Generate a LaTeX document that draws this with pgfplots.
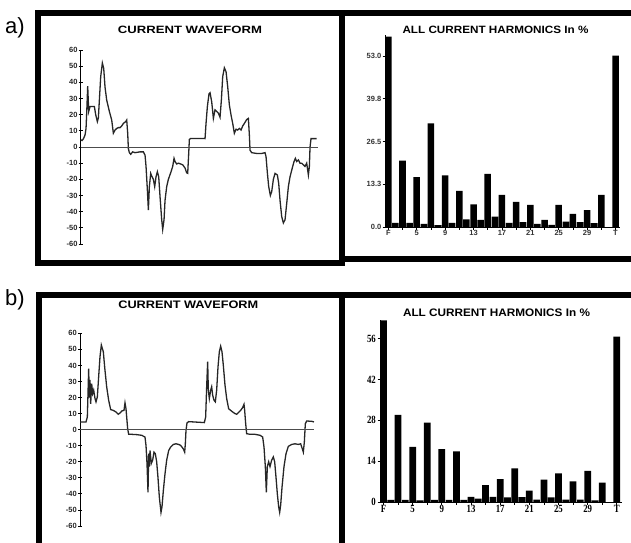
\documentclass[border=0pt]{standalone}
\usepackage{pgfplots}
\pgfplotsset{compat=1.18}
\usepackage{fontspec}
\setmainfont{Liberation Sans}
\newfontfamily\tms{Liberation Serif}
\newcommand{\bt}[1]{\scalebox{0.8}[1]{\tms\bfseries #1}}
\pgfplotsset{
  wave/.style={scale only axis, anchor=south west, clip=false,
    axis x line=none, axis y line=left, axis line style={-, line width=0.8pt},
    ytick={-60,-50,...,60},
    yticklabels={-60,-50,-40,-30,-20,-10,0,10,20,30,40,50,60},
    tick align=center, major tick length=4pt,
    tick style={line width=0.8pt, black},
    yticklabel style={font=\fontsize{7.5}{7.5}\selectfont\bfseries, inner sep=1pt, text=black!85}},
  harm/.style={scale only axis, anchor=south west, clip=false,
    axis x line=bottom, axis y line=left, axis line style={-, line width=0.9pt},
    ybar, bar width=0.92,
    xtick={1,3,...,33},
    tick align=outside, major tick length=2.5pt,
    tick style={line width=0.8pt, black}},
}
\begin{document}
\begin{tikzpicture}[x=1pt,y=1pt]
\useasboundingbox (0,0) rectangle (631,-542);
% frames
\draw[line width=6pt] (38.3,-13) rectangle (341.5,-262.5);
\draw[line width=6pt] (341.5,-12.5) rectangle (660,-259);
\draw[line width=6pt] (38.5,-294.5) rectangle (341.5,-570);
\draw[line width=6pt] (341.5,-294.5) rectangle (660,-570);
% panel labels
\node[font=\fontsize{22}{22}\selectfont] at (15,-27.5) {a)};
\node[font=\fontsize{22}{22}\selectfont] at (15,-300) {b)};
% titles
\node[anchor=base] at (190,-33.7) {\resizebox{144pt}{7.4pt}{\bfseries CURRENT WAVEFORM}};
\node[anchor=base] at (495.5,-33.7) {\resizebox{186pt}{7.4pt}{\bfseries ALL CURRENT HARMONICS In \%}};
\node[anchor=base] at (188.3,-308.7) {\resizebox{140pt}{7.6pt}{\bfseries CURRENT WAVEFORM}};
\node[anchor=base] at (496.5,-316) {\resizebox{187pt}{7.6pt}{\bfseries ALL CURRENT HARMONICS In \%}};

% ---- a) waveform
\begin{axis}[wave, at={(80.7pt,-244pt)}, width=237pt, height=194pt,
  xmin=62, xmax=773, ymin=-60, ymax=60]
\addplot[black!85, line width=1.3pt] coordinates {
(62,4.5)(66,4)(70,5)(75,7.4)(78,11.5)(80,21)(83,37.7)(86,22)(90,25)(95,25)(103,25)(107,20)(112,15.7)(115,18)(118,29)(122,43.5)(127,52)(131,48.7)(135,37)(140,29)(148,22)(155,16.7)(160,8.5)(165,10.5)(170,11.5)(175,12)(180,12)(185,13)(190,14.6)(197,15.7)(200,16.7)(203,8.5)(205,-1)(208,-3.5)(212,-4.5)(218,-3)(225,-3.5)(240,-3)(250,-3)(255,-5)(258,-12)(262,-26.6)(265,-39)(268,-24.5)(272,-16.3)(276,-18.4)(280,-20)(284,-24.5)(288,-18.4)(292,-15.3)(296,-18.4)(300,-30.7)(305,-45)(308,-51)(312,-45)(315,-33)(320,-24.5)(325,-20)(333,-15.3)(338,-12)(342,-7)(345,-9)(350,-10.5)(355,-10)(362,-10.5)(368,-11)(375,-13)(380,-16)(383,-16.3)(386,-4)(388,4.7)(392,5.3)(435,5.2)(438,14.6)(442,25)(447,33)(450,33.6)(455,28)(460,17.7)(465,23)(470,22)(475,21)(480,18.4)(484,29)(488,43.5)(493,49)(498,46.6)(503,37.3)(508,26)(513,19.8)(518,14.6)(523,8.5)(528,11)(533,10.5)(538,11.5)(543,10.5)(548,13)(553,14.6)(560,17)(565,17.7)(568,7.4)(570,-2)(575,-3.5)(590,-4)(605,-4)(615,-3.5)(618,-6)(622,-16)(626,-24.5)(631,-30)(635,-27.6)(640,-20)(645,-16.3)(652,-17.3)(656,-22.5)(660,-33)(665,-43)(670,-47)(675,-45)(680,-35)(685,-24.5)(690,-18.4)(698,-12)(702,-9)(706,-7)(710,-9)(715,-8)(720,-10)(725,-10)(730,-11)(735,-12)(740,-10)(745,-17.3)(748,-12)(750,0)(753,5.2)(770,5.2)
};
\addplot[black!70, line width=1pt] coordinates {(62,0) (773,0)};
\end{axis}

% ---- a) harmonics
\begin{axis}[harm, at={(385pt,-227pt)}, width=235pt, height=191.9pt,
  xmin=0.535, xmax=33.63, ymin=0, ymax=59.5,
  xticklabels={F,,5,,9,,13,,17,,21,,25,,29,,T},
  ytick={0,13.25,26.5,39.75,53}, yticklabels={0.0,13.3,26.5,39.8,53.0},
  xticklabel style={font=\fontsize{7.5}{7.5}\selectfont\bfseries, inner sep=1pt, text=black!80},
  yticklabel style={font=\fontsize{7.5}{7.5}\selectfont\bfseries, inner sep=1pt, text=black!80}]
\addplot[fill=black, draw=none] coordinates {
(1,59)(2,1.3)(3,20.6)(4,1.3)(5,15.5)(6,1.0)(7,32.1)(8,0.6)(9,16)(10,1.3)(11,11.2)(12,2.4)(13,7.0)(14,2.2)(15,16.5)(16,3.2)(17,10)(18,1.3)(19,7.8)(20,1.5)(21,6.9)(22,1.0)(23,2.2)(24,0.7)(25,6.9)(26,1.7)(27,4.1)(28,1.5)(29,5.2)(30,1.2)(31,10)(33,53.1)
};
\end{axis}

% ---- b) waveform
\begin{axis}[wave, at={(80pt,-526pt)}, width=234pt, height=192.7pt,
  xmin=60, xmax=762, ymin=-60, ymax=60]
\addplot[black!85, line width=1.3pt] coordinates {
(60,4.8)(78,4.8)(82,7.9)(84,22.5)(86,38)(88,20)(90,31)(92,16)(95,28.7)(98,22.5)(101,24.6)(105,19.4)(108,17.3)(112,20.4)(116,33)(120,45.4)(124,52.7)(127,50.6)(130,48.5)(134,39)(140,26.7)(146,18.3)(152,12.5)(160,12)(168,11)(175,9.6)(180,10.4)(186,11.7)(192,12)(195,16.7)(198,13)(200,8)(203,0.6)(206,-2.9)(215,-2.9)(230,-3.1)(245,-3.5)(255,-4.6)(258,-9.8)(261,-21)(264,-39)(266,-15)(268,-23)(270,-13)(274,-21)(278,-19)(282,-14)(286,-15)(290,-20)(294,-30)(298,-42)(303,-51.5)(306,-48)(310,-38)(315,-27.5)(320,-19)(326,-13)(332,-10.8)(340,-9.2)(348,-8.8)(356,-9.2)(362,-9.8)(370,-12)(374,-14)(376,-8.8)(378,-0.4)(381,4.2)(386,5)(433,4.4)(437,7.9)(440,26.7)(443,42.3)(445,24.6)(448,19.4)(452,24.6)(455,26.7)(458,21.5)(462,18.3)(466,17.3)(470,24.6)(474,39)(478,48.5)(482,52)(486,48.5)(490,40)(495,27.7)(500,19.4)(506,13)(512,12)(518,11)(525,10)(530,9.6)(535,10.6)(542,12)(548,13.8)(552,15.8)(554,12)(557,3.75)(560,-2.5)(570,-2.9)(585,-2.9)(600,-3.5)(608,-4.6)(612,-10.8)(616,-23)(619,-39)(622,-23)(626,-20)(630,-23)(635,-19)(640,-17)(644,-20)(648,-29.6)(652,-40)(656,-48)(659,-51.5)(662,-47)(666,-36)(672,-23)(678,-15)(685,-10.4)(695,-9.2)(705,-8.8)(715,-9.2)(722,-8.8)(727,-12)(730,-14)(733,-7.7)(736,3.75)(740,5.4)(755,5.2)(762,4.8)
};
\addplot[black!70, line width=1pt] coordinates {(60,0) (762,0)};
\end{axis}

% ---- b) harmonics
\begin{axis}[harm, at={(380pt,-502pt)}, width=241.7pt, height=182.5pt,
  xmin=0.52, xmax=33.67, ymin=0, ymax=62.5,
  xticklabels={\bt{F},,\bt{5},,\bt{9},,\bt{13},,\bt{17},,\bt{21},,\bt{25},,\bt{29},,\bt{T}},
  ytick={0,14,28,42,56}, yticklabels={\bt{0},\bt{14},\bt{28},\bt{42},\bt{56}},
  xticklabel style={font=\fontsize{11}{11}\selectfont, inner sep=1pt},
  yticklabel style={font=\fontsize{11}{11}\selectfont, inner sep=1.5pt}]
\addplot[fill=black, draw=none] coordinates {
(1,62.2)(2,0.7)(3,29.8)(4,0.7)(5,18.9)(6,0.6)(7,27.2)(8,0.7)(9,18.1)(10,0.7)(11,17.3)(12,0.7)(13,1.8)(14,1.2)(15,5.8)(16,1.8)(17,7.8)(18,1.6)(19,11.5)(20,1.7)(21,3.9)(22,0.8)(23,7.7)(24,1.6)(25,9.8)(26,0.8)(27,7.1)(28,0.8)(29,10.7)(30,0.6)(31,6.6)(33,56.6)
};
\end{axis}
\end{tikzpicture}
\end{document}
